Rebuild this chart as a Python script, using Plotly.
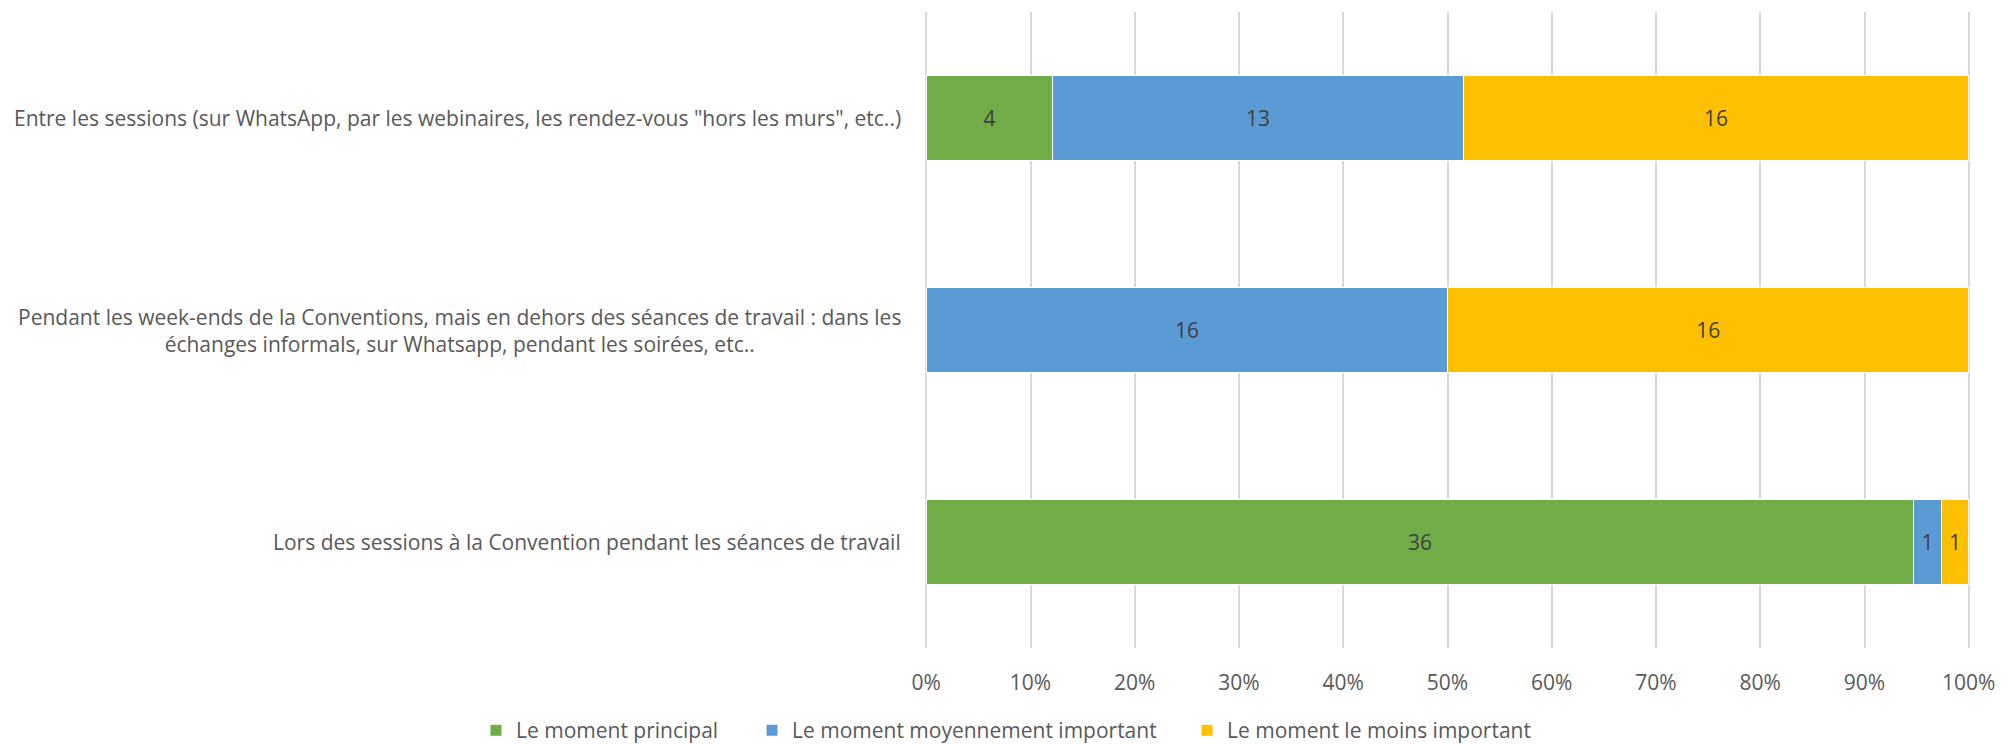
import plotly.graph_objects as go

categories = [
    "Lors des sessions à la Convention pendant les séances de travail",
    "Pendant les week-ends de la Conventions, mais en dehors des séances de travail : dans les<br>échanges informals, sur Whatsapp, pendant les soirées, etc..",
    "Entre les sessions (sur WhatsApp, par les webinaires, les rendez-vous \"hors les murs\", etc..)",
]
series_names = ["Le moment principal", "Le moment moyennement important", "Le moment le moins important"]
principal = [36, 0, 4]
moyen = [1, 16, 13]
moins = [1, 16, 16]
colors = ["#70AD47", "#5B9BD5", "#FFC000"]
tick_vals = [0, 10, 20, 30, 40, 50, 60, 70, 80, 90, 100]
tick_text = ["0%", "10%", "20%", "30%", "40%", "50%", "60%", "70%", "80%", "90%", "100%"]

FONT = "Open Sans, sans-serif"
TXT = "#595959"
FS = 21
W, H = 2007, 744
legend_ids = ["legend", "legend2", "legend3"]
legend_left_px = [476, 752, 1187]  # left edge of each legend box

fig = go.Figure()
for name, vals, col, lid in zip(series_names, [principal, moyen, moins], colors, legend_ids):
    fig.add_trace(go.Bar(
        y=categories, x=vals, name=name, orientation="h", legend=lid,
        marker=dict(color=col, line=dict(width=1, color="white")),
        text=[str(v) if v else "" for v in vals],
        textposition="inside", insidetextanchor="middle", textangle=0,
        textfont=dict(family=FONT, size=FS, color="#404040"),
        hoverinfo="x+y+name",
    ))

for c in categories:
    fig.add_annotation(x=0, y=c, xref="paper", yref="y", text=c, showarrow=False,
                       xanchor="right", align="center", xshift=-22,
                       font=dict(family=FONT, size=FS, color=TXT))

legend_common = dict(orientation="h", xref="container", yref="container", xanchor="left",
                     y=0.018, yanchor="middle", font=dict(family=FONT, size=FS, color=TXT),
                     itemwidth=30, bgcolor="rgba(0,0,0,0)")
legends = {lid: dict(legend_common, x=px / W) for lid, px in zip(legend_ids, legend_left_px)}

fig.update_layout(
    barmode="stack", barnorm="percent", bargap=0.6,
    width=W, height=H,
    margin=dict(l=925, r=30, t=12, b=96),
    paper_bgcolor="white", plot_bgcolor="white",
    font=dict(family=FONT, size=FS, color=TXT),
    showlegend=True,
    xaxis=dict(range=[-0.12, 100.12], tickvals=tick_vals, ticktext=tick_text, showgrid=True,
               gridcolor="#D9D9D9", gridwidth=1.5, zeroline=False, showline=False, ticks="",
               ticklabelstandoff=20, tickfont=dict(family=FONT, size=FS, color=TXT)),
    yaxis=dict(showticklabels=False, showgrid=False, zeroline=False, showline=False),
    **legends,
)

fig.write_html("out.html", config={"displayModeBar": False},
               post_script="document.body.style.margin='0';document.body.style.overflow='hidden';")
